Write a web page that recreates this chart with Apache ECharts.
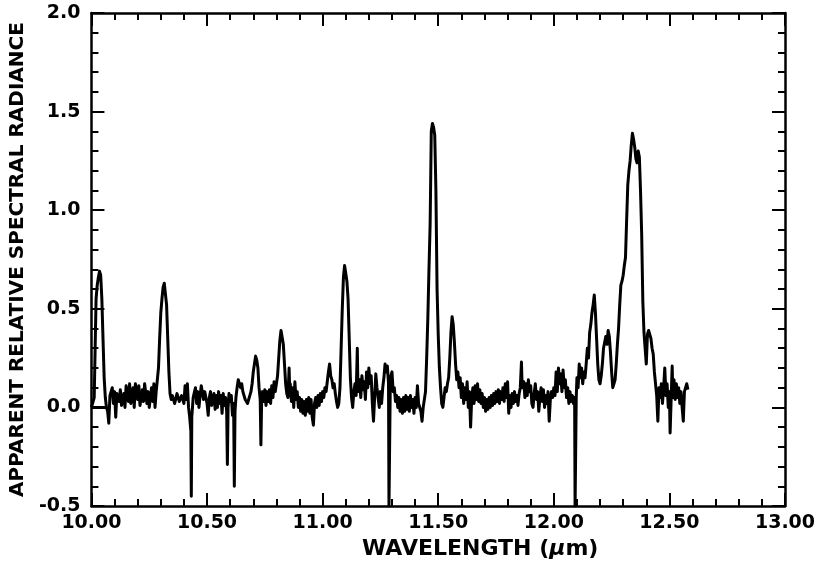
<!DOCTYPE html>
<html>
<head>
<meta charset="utf-8">
<script src="https://cdn.jsdelivr.net/npm/echarts@6/dist/echarts.min.js"></script>
<style>html,body{margin:0;padding:0;background:#fff}#c{width:820px;height:569px}</style>
</head>
<body>
<div id="c"></div>
<script>
// Wavelength (um), apparent relative spectral radiance
const seg1000 = [
 [10.000,0.00],[10.008,0.00],[10.012,0.05],[10.016,0.30],[10.020,0.55],[10.025,0.62],[10.030,0.66],[10.035,0.69],
 [10.040,0.67],[10.045,0.55],[10.050,0.35],[10.055,0.15],[10.060,0.05],[10.065,0.00],[10.070,-0.02],[10.075,-0.08],
 [10.080,0.06],[10.090,0.10],[10.095,0.02],[10.100,0.08],[10.105,-0.05],[10.110,0.07],[10.120,0.03],[10.125,0.09],
 [10.130,0.01],[10.140,0.07],[10.145,0.00],[10.150,0.11],[10.160,0.03],[10.165,0.12],[10.170,0.02],[10.180,0.10],
 [10.185,0.00],[10.190,0.12],[10.200,0.04],[10.205,0.11],[10.210,0.01],[10.220,0.09],[10.225,0.03],[10.230,0.12],
 [10.240,0.02],[10.245,0.08],[10.250,0.00],[10.260,0.10],[10.265,0.03],[10.270,0.12],[10.275,0.00],[10.280,0.08],
 [10.290,0.20],[10.295,0.35],[10.300,0.48],[10.305,0.55],[10.310,0.61],[10.315,0.63],[10.320,0.62],[10.325,0.52],
 [10.330,0.35],[10.335,0.18],[10.340,0.07],[10.345,0.04],[10.350,0.06],[10.360,0.02],[10.370,0.07],[10.380,0.03],
 [10.390,0.06],[10.400,0.02],[10.405,0.11],[10.410,0.04],[10.415,0.12],[10.420,0.00],[10.425,-0.05],[10.430,-0.12],
 [10.432,-0.45],[10.434,-0.05],[10.440,0.05],[10.450,0.10],[10.455,0.02],[10.460,0.08],[10.465,0.00],[10.470,0.06],
 [10.475,0.11],[10.480,0.12],[10.485,0.04],[10.490,0.08],[10.500,0.02]
];
const seg1050 = [
 [10.505,-0.04],[10.510,0.05],[10.515,0.08],[10.520,0.01],[10.530,0.07],[10.535,-0.01],[10.540,0.06],[10.545,0.00],
 [10.550,0.08],[10.555,0.02],[10.560,0.06],[10.565,-0.03],[10.570,0.07],[10.575,0.01],[10.580,0.05],[10.585,-0.02],
 [10.588,-0.29],[10.591,0.00],[10.595,0.07],[10.600,0.03],[10.605,0.06],[10.610,-0.04],[10.615,0.02],[10.618,-0.40],
 [10.621,-0.02],[10.625,0.05],[10.630,0.10],[10.635,0.14],[10.640,0.13],[10.645,0.10],[10.650,0.12],[10.655,0.08],
 [10.660,0.07],[10.665,0.04],[10.670,0.05],[10.675,0.02],[10.680,0.03],[10.685,0.06],[10.690,0.08],[10.695,0.12],
 [10.700,0.18],[10.705,0.22],[10.710,0.26],[10.715,0.24],[10.720,0.20],[10.725,0.10],[10.730,0.04],[10.733,-0.19],
 [10.736,0.02],[10.740,0.08],[10.745,0.03],[10.750,0.09],[10.755,0.01],[10.760,0.08],[10.765,0.03],[10.770,0.09],
 [10.775,0.02],[10.780,0.11],[10.785,0.05],[10.790,0.13],[10.795,0.08],[10.800,0.12],[10.805,0.16],[10.810,0.25],
 [10.815,0.34],[10.820,0.39],[10.825,0.38],[10.830,0.32],[10.835,0.22],[10.840,0.12],[10.845,0.07],[10.850,0.05],
 [10.855,0.20],[10.858,0.06],[10.860,0.12],[10.865,0.03],[10.870,0.10],[10.875,0.00],[10.880,0.13],[10.885,0.04],
 [10.890,0.08],[10.895,0.00],[10.900,0.05],[10.905,-0.02],[10.910,0.04],[10.915,-0.03],[10.920,0.03],[10.925,-0.04],
 [10.930,0.04],[10.935,-0.02],[10.940,0.05],[10.945,-0.03],[10.950,0.04],[10.955,-0.05],[10.960,-0.09],[10.965,0.02],
 [10.970,0.05],[10.975,0.00],[10.980,0.06],[10.985,0.01],[10.990,0.07],[10.995,0.03],[11.000,0.08]
];
const seg1100 = [
 [11.005,0.05],[11.010,0.10],[11.015,0.08],[11.020,0.13],[11.025,0.18],[11.030,0.22],[11.035,0.16],[11.040,0.14],
 [11.045,0.10],[11.050,0.12],[11.055,0.07],[11.060,0.03],[11.065,0.00],[11.070,0.02],[11.075,0.10],[11.080,0.30],
 [11.085,0.50],[11.090,0.66],[11.095,0.72],[11.100,0.71],[11.105,0.64],[11.110,0.55],[11.115,0.35],[11.120,0.15],
 [11.125,0.05],[11.130,0.00],[11.135,0.08],[11.140,0.12],[11.145,0.06],[11.150,0.30],[11.153,0.08],[11.160,0.14],
 [11.165,0.05],[11.170,0.16],[11.175,0.09],[11.180,0.13],[11.185,0.04],[11.190,0.18],[11.195,0.10],[11.200,0.20],
 [11.205,0.12],[11.210,0.16],[11.215,0.02],[11.220,-0.07],[11.225,0.05],[11.230,0.17],[11.235,0.10],[11.240,0.05],
 [11.245,0.00],[11.250,0.08],[11.255,0.02],[11.260,0.10],[11.265,0.15],[11.270,0.22],[11.275,0.18],[11.280,0.21],
 [11.285,0.12],[11.287,-0.50],[11.290,-0.50],[11.293,0.15],[11.300,0.18],[11.305,0.08],[11.310,0.10],[11.315,0.03],
 [11.320,0.06],[11.325,0.00],[11.330,0.05],[11.335,-0.02],[11.340,0.04],[11.345,-0.03],[11.350,0.05],[11.355,-0.02],
 [11.360,0.06],[11.365,-0.01],[11.370,0.05],[11.375,-0.02],[11.380,0.06],[11.385,0.00],[11.390,0.04],[11.395,-0.03],
 [11.400,0.05],[11.405,0.00],[11.410,0.11],[11.415,0.02],[11.420,0.03],[11.425,-0.02],[11.430,-0.07],[11.435,0.00],
 [11.440,0.00],[11.445,0.08],[11.450,0.25],[11.455,0.45],[11.460,0.70],[11.465,0.93],[11.470,1.40],[11.475,1.44],
 [11.480,1.42],[11.485,1.38],[11.490,1.10],[11.495,0.60],[11.500,0.37]
];
const seg1150 = [
 [11.505,0.20],[11.510,0.10],[11.515,0.02],[11.520,0.00],[11.525,0.05],[11.530,0.10],[11.535,0.08],[11.540,0.12],
 [11.545,0.15],[11.550,0.25],[11.555,0.38],[11.560,0.46],[11.565,0.42],[11.570,0.33],[11.575,0.22],[11.580,0.14],
 [11.585,0.18],[11.590,0.10],[11.595,0.15],[11.600,0.05],[11.605,0.12],[11.610,0.02],[11.615,0.10],[11.620,0.04],
 [11.625,0.13],[11.630,0.00],[11.635,0.08],[11.640,-0.10],[11.645,0.05],[11.650,0.10],[11.655,0.02],[11.660,0.11],
 [11.665,0.04],[11.670,0.12],[11.675,0.03],[11.680,0.09],[11.685,0.02],[11.690,0.07],[11.695,0.00],[11.700,0.05],
 [11.705,-0.02],[11.710,0.04],[11.715,-0.01],[11.720,0.05],[11.725,0.00],[11.730,0.06],[11.735,0.01],[11.740,0.07],
 [11.745,0.02],[11.750,0.08],[11.755,0.03],[11.760,0.09],[11.765,0.02],[11.770,0.08],[11.775,0.04],[11.780,0.10],
 [11.785,0.03],[11.790,0.12],[11.795,0.05],[11.800,0.13],[11.805,-0.03],[11.810,0.06],[11.815,0.00],[11.820,0.07],
 [11.825,0.02],[11.830,0.08],[11.835,0.03],[11.840,0.06],[11.845,0.01],[11.850,0.07],[11.855,0.10],[11.860,0.23],
 [11.863,0.10],[11.870,0.13],[11.875,0.05],[11.880,0.12],[11.885,0.06],[11.890,0.14],[11.895,0.08],[11.900,0.11],
 [11.905,0.02],[11.910,0.00],[11.915,0.07],[11.920,0.12],[11.925,0.04],[11.930,0.08],[11.935,-0.02],[11.940,0.05],
 [11.945,0.10],[11.950,0.03],[11.955,0.09],[11.960,0.00],[11.965,0.06],[11.970,0.02],[11.975,0.08],[11.980,-0.07],
 [11.985,0.04],[11.990,0.08],[11.995,0.05],[12.000,0.10]
];
const seg1200 = [
 [12.005,0.06],[12.010,0.18],[12.015,0.08],[12.020,0.20],[12.025,0.12],[12.030,0.17],[12.035,0.08],[12.040,0.19],
 [12.045,0.10],[12.050,0.14],[12.055,0.05],[12.060,0.10],[12.065,0.02],[12.070,0.08],[12.075,0.03],[12.080,0.06],
 [12.085,0.02],[12.090,0.05],[12.092,-0.50],[12.095,-0.50],[12.097,0.05],[12.100,0.15],[12.105,0.10],[12.110,0.22],
 [12.115,0.15],[12.120,0.20],[12.125,0.12],[12.130,0.18],[12.135,0.15],[12.140,0.22],[12.145,0.30],[12.150,0.25],
 [12.155,0.38],[12.160,0.42],[12.165,0.48],[12.170,0.52],[12.175,0.57],[12.180,0.48],[12.185,0.35],[12.190,0.22],
 [12.195,0.14],[12.200,0.12],[12.205,0.16],[12.210,0.22],[12.215,0.30],[12.220,0.33],[12.225,0.36],[12.230,0.32],
 [12.235,0.39],[12.240,0.36],[12.245,0.28],[12.250,0.18],[12.255,0.10],[12.260,0.12],[12.265,0.14],[12.270,0.22],
 [12.275,0.32],[12.280,0.40],[12.285,0.52],[12.290,0.62],[12.295,0.64],[12.300,0.67],[12.305,0.72],[12.310,0.76],
 [12.315,0.95],[12.320,1.13],[12.325,1.20],[12.330,1.25],[12.335,1.33],[12.340,1.39],[12.345,1.36],[12.350,1.32],
 [12.355,1.26],[12.360,1.24],[12.365,1.30],[12.370,1.27],[12.375,1.10],[12.380,0.88],[12.385,0.54],[12.390,0.38],
 [12.395,0.37],[12.400,0.22],[12.405,0.37],[12.410,0.39],[12.415,0.38],[12.420,0.35],[12.425,0.30],[12.430,0.27],
 [12.435,0.18],[12.440,0.12],[12.445,0.06],[12.450,-0.07],[12.455,0.10],[12.460,0.05],[12.465,0.12],[12.470,0.02],
 [12.475,0.10],[12.480,0.20],[12.485,0.06],[12.490,0.12],[12.495,0.00],[12.500,0.08],[12.503,-0.13],[12.508,0.06],
 [12.512,0.21],[12.515,0.05],[12.520,0.14],[12.525,0.04],[12.530,0.12],[12.535,0.05],[12.540,0.10],[12.545,0.02],
 [12.550,0.08],[12.555,0.00],[12.560,-0.07],[12.565,0.08],[12.570,0.10],[12.575,0.12],[12.580,0.09]
];
// short zero-level pen stroke at the start of the trace
const zeroStroke = [[10.000,0.00],[10.070,0.00]];

const xMin = 10, xMax = 13, xStep = 0.5;
const yMin = -0.5, yMax = 2.0, yStep = 0.5;

const spectrum = [].concat(seg1000, seg1050, seg1100, seg1150, seg1200);

const chart = echarts.init(document.getElementById('c'), null, {renderer: 'canvas'});
const FONT = 'DejaVu Sans';
const axisLine = {show: true, onZero: false, lineStyle: {color: '#000', width: 2.5}};
const tick = {show: true, inside: true, length: 13, lineStyle: {color: '#000', width: 2}};
const minor = {show: true, splitNumber: 5, length: 7, lineStyle: {color: '#000', width: 2}};
const lbl = {color: '#000', fontFamily: FONT, fontWeight: 'bold', fontSize: 19};

chart.setOption({
  animation: false,
  backgroundColor: '#fff',
  grid: {left: 90, right: 35, top: 13, bottom: 63, containLabel: false},
  xAxis: [
    {type: 'value', min: xMin, max: xMax, interval: xStep, position: 'bottom',
     axisLine: axisLine, axisTick: tick, minorTick: minor, splitLine: {show: false},
     axisLabel: Object.assign({margin: 8, formatter: v => v.toFixed(2), showMinLabel: true, showMaxLabel: true}, lbl),
     name: '{a|WAVELENGTH (}{b|μ}{a|m)}', nameLocation: 'middle', nameGap: 32,
     nameTextStyle: {padding: [0, 0, 0, 84], rich: {
       a: {color: '#000', fontFamily: FONT, fontWeight: 'bold', fontSize: 22},
       b: {color: '#000', fontFamily: FONT, fontWeight: 'bold', fontStyle: 'italic', fontSize: 22}}}},
    {type: 'value', min: xMin, max: xMax, interval: xStep, position: 'top',
     axisLine: axisLine, axisTick: tick, minorTick: minor, splitLine: {show: false}, axisLabel: {show: false}}
  ],
  yAxis: [
    {type: 'value', min: yMin, max: yMax, interval: yStep, position: 'left',
     axisLine: axisLine, axisTick: tick, minorTick: minor, splitLine: {show: false},
     axisLabel: Object.assign({margin: 11, formatter: v => v.toFixed(1)}, lbl),
     name: 'APPARENT RELATIVE SPECTRAL RADIANCE', nameLocation: 'middle', nameGap: 60, nameRotate: 90,
     nameTextStyle: {color: '#000', fontFamily: FONT, fontWeight: 'bold', fontSize: 20}},
    {type: 'value', min: yMin, max: yMax, interval: yStep, position: 'right',
     axisLine: axisLine, axisTick: tick, minorTick: minor, splitLine: {show: false}, axisLabel: {show: false}}
  ],
  series: [
    {type: 'line', data: spectrum, xAxisIndex: 0, yAxisIndex: 0, showSymbol: false, symbol: 'none',
     lineStyle: {color: '#000', width: 3, join: 'round'}, clip: true},
    {type: 'line', data: zeroStroke, xAxisIndex: 0, yAxisIndex: 0, showSymbol: false, symbol: 'none',
     lineStyle: {color: '#000', width: 3}}
  ]
});
</script>
</body>
</html>
